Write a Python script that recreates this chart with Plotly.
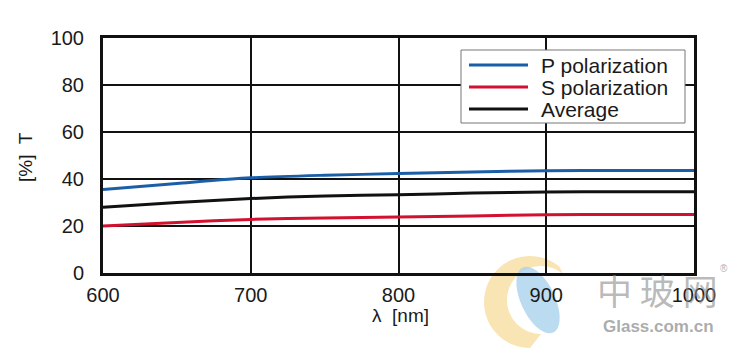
import math
import plotly.graph_objects as go

wavelength = [600, 650, 700, 750, 800, 850, 900, 950, 1000]
p_pol = [35.5, 38.1, 40.5, 41.6, 42.3, 43.0, 43.5, 43.6, 43.6]
s_pol = [20.0, 21.5, 22.8, 23.4, 23.8, 24.3, 24.8, 24.9, 24.9]
average = [28.0, 30.0, 31.7, 32.8, 33.3, 34.0, 34.5, 34.6, 34.6]

series_names = ["P polarization", "S polarization", "Average"]
series_colors = ["#1b5ea8", "#d21130", "#111111"]

x_ticks = [600, 700, 800, 900, 1000]
y_ticks = [0, 20, 40, 60, 80, 100]

FONT = "Liberation Sans, Arial, sans-serif"
TXT = "#1a1a1a"

# plot area in pixels
L, T, W, H = 103, 38, 591, 235


def px(x):
    return (x - L) / W


def py(y):
    return (T + H - y) / H


def path_from_pixels(pts):
    return "M " + " L ".join(f"{px(a):.4f},{py(b):.4f}" for a, b in pts) + " Z"


fig = go.Figure()
for name, vals, color in zip(series_names, [p_pol, s_pol, average], series_colors):
    fig.add_trace(go.Scatter(
        x=wavelength, y=vals, name=name, mode="lines",
        line=dict(color=color, width=3, shape="spline", smoothing=0.8),
        showlegend=False, hoverinfo="skip",
    ))

fig.update_layout(
    width=750, height=350,
    margin=dict(l=L, r=750 - L - W, t=T, b=350 - T - H),
    paper_bgcolor="white", plot_bgcolor="white",
    font=dict(family=FONT, size=20, color=TXT),
    showlegend=False,
)
fig.update_xaxes(
    range=[600, 1000], tickvals=x_ticks, ticktext=[str(v) for v in x_ticks],
    showgrid=True, gridcolor="#111111", gridwidth=1.5,
    showline=True, linecolor="#111111", linewidth=3, mirror=True,
    zeroline=False, ticks="", ticklabelstandoff=2,
)
fig.update_yaxes(
    range=[0, 100], tickvals=y_ticks, ticktext=[str(v) for v in y_ticks],
    showgrid=True, gridcolor="#111111", gridwidth=1.5,
    showline=True, linecolor="#111111", linewidth=3, mirror=True,
    zeroline=False, ticks="", ticklabelstandoff=12,
)

# legend (drawn manually to match box size)
shapes = [dict(type="rect", xref="paper", yref="paper",
               x0=px(461), x1=px(685), y0=py(123), y1=py(50),
               line=dict(color="#777777", width=1), fillcolor="white", layer="above")]
row_y = [65, 87, 109]
for yy, color, name in zip(row_y, series_colors, series_names):
    shapes.append(dict(type="line", xref="paper", yref="paper",
                       x0=px(469), x1=px(528), y0=py(yy), y1=py(yy),
                       line=dict(color=color, width=3), layer="above"))
    fig.add_annotation(text=name, xref="paper", yref="paper", x=px(539), y=py(yy),
                       xanchor="left", yanchor="middle", showarrow=False,
                       font=dict(family=FONT, size=21, color=TXT))

# watermark logo (behind): yellow crescent + light blue leaf
outer = [(530 + 46 * math.cos(math.radians(a)), 302 - 46 * math.sin(math.radians(a)))
         for a in range(50, 275, 5)]
inner = [(541 + 34 * math.cos(math.radians(a)), 300 - 34 * math.sin(math.radians(a)))
         for a in range(270, 45, -5)]
shapes.append(dict(type="path", xref="paper", yref="paper",
                   path=path_from_pixels(outer + inner),
                   line=dict(width=0), fillcolor="rgba(248,222,160,0.8)", layer="below"))
rot = math.radians(25)
leaf = []
for a in range(0, 360, 10):
    ex, ey = 17 * math.cos(math.radians(a)), 36 * math.sin(math.radians(a))
    leaf.append((538 + ex * math.cos(rot) + ey * math.sin(rot),
                 300 - ex * math.sin(rot) + ey * math.cos(rot)))
shapes.append(dict(type="path", xref="paper", yref="paper",
                   path=path_from_pixels(leaf),
                   line=dict(width=0), fillcolor="rgba(170,210,236,0.8)", layer="below"))
fig.update_layout(shapes=shapes)

# axis titles
fig.add_annotation(
    text="[%]  T", textangle=-90, xref="paper", yref="paper",
    x=px(25), y=py(157), showarrow=False, xanchor="center", yanchor="middle",
    font=dict(family=FONT, size=19, color=TXT),
)
fig.add_annotation(
    text="λ  [nm]", xref="paper", yref="paper",
    x=px(400), y=py(315), showarrow=False, xanchor="center", yanchor="middle",
    font=dict(family=FONT, size=19, color=TXT),
)

# watermark text
fig.add_annotation(
    text="中 玻 网", xref="paper", yref="paper", x=px(720), y=py(289),
    showarrow=False, xanchor="right", yanchor="middle",
    font=dict(family="Noto Sans CJK SC", size=35, color="rgba(140,140,140,0.6)"),
)
fig.add_annotation(
    text="<b>Glass.com.cn</b>", xref="paper", yref="paper", x=px(716), y=py(326),
    showarrow=False, xanchor="right", yanchor="middle",
    font=dict(family=FONT, size=17, color="rgba(150,150,150,0.8)"),
)
fig.add_annotation(
    text="®", xref="paper", yref="paper", x=px(724), y=py(268),
    showarrow=False, xanchor="center", yanchor="middle",
    font=dict(family=FONT, size=10, color="rgba(150,150,150,0.8)"),
)

fig.write_html("out.html", config={"displayModeBar": False},
               post_script="document.body.style.margin='0';")
